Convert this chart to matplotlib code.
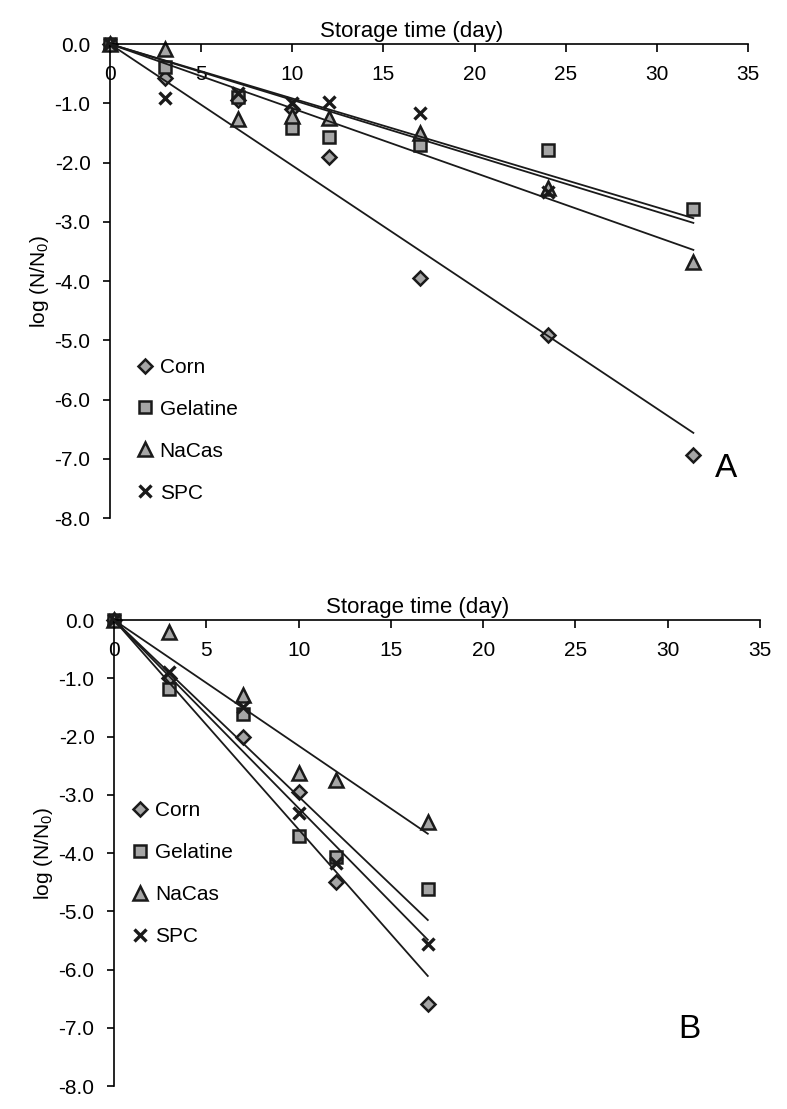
import numpy as np
import matplotlib

matplotlib.use("Agg")
import matplotlib.pyplot as plt
from matplotlib.lines import Line2D

plt.rcParams["font.family"] = ["Liberation Sans", "DejaVu Sans"]
plt.rcParams["axes.unicode_minus"] = False
plt.rcParams["mathtext.fontset"] = "custom"
plt.rcParams["mathtext.rm"] = "Liberation Sans"

# ---- data (log N/N0 vs storage day) ----
series_names = ["Corn", "Gelatine", "NaCas", "SPC"]

days_a = [0, 3, 7, 10, 12, 17, 24, 32]
corn_a = [0, -0.57, -0.95, -1.10, -1.91, -3.95, -4.91, -6.94]
gelatine_a = [0, -0.39, -0.89, -1.42, -1.57, -1.70, -1.79, -2.78]
nacas_a = [0, -0.08, -1.27, -1.22, -1.25, -1.50, -2.43, -3.68]
spc_a = [0, -0.91, -0.83, -0.99, -0.98, -1.17, -2.50, np.nan]

days_b = [0, 3, 7, 10, 12, 17]
corn_b = [0, -1.00, -2.00, -2.95, -4.49, -6.59]
gelatine_b = [0, -1.18, -1.61, -3.70, -4.07, -4.61]
nacas_b = [0, -0.20, -1.29, -2.62, -2.74, -3.46]
spc_b = [0, -0.89, -1.50, -3.31, -4.17, -5.56]

x_ticks = [0, 5, 10, 15, 20, 25, 30, 35]
y_ticks = [0, -1, -2, -3, -4, -5, -6, -7, -8]

FILL = "#a6a6a6"
EDGE = "#1a1a1a"
MARKERS = {
    "Corn": dict(marker="D", ms=7, mfc=FILL, mec=EDGE, mew=1.8),
    "Gelatine": dict(marker="s", ms=9, mfc=FILL, mec=EDGE, mew=1.8),
    "NaCas": dict(marker="^", ms=10.5, mfc=FILL, mec=EDGE, mew=1.8),
    "SPC": dict(marker="x", ms=8, mec=EDGE, mew=2.4),
}
FS = 15


def origin_fit(days, vals):
    """Least-squares slope of a line forced through the origin."""
    x = np.asarray(days, float)
    y = np.asarray(vals, float)
    ok = ~np.isnan(y)
    return np.sum(x[ok] * y[ok]) / np.sum(x[ok] ** 2)


def draw_panel(ax, days, groups, x_end, tag, tag_xy, legend_xy, title_x):
    for name, vals in zip(series_names, groups):
        slope = origin_fit(days, vals)
        ax.plot([0, x_end], [0, slope * x_end], color=EDGE, lw=1.3, zorder=3,
                clip_on=False)
    for name, vals in zip(series_names, groups):
        ax.plot(days, vals, ls="none", zorder=2, clip_on=False, **MARKERS[name])

    ax.set_xlim(0, 35)
    ax.set_ylim(-8, 0)
    ax.spines["bottom"].set_position(("data", 0))
    ax.spines["top"].set_visible(False)
    ax.spines["right"].set_visible(False)
    for sp in ("left", "bottom"):
        ax.spines[sp].set_linewidth(1.2)
    ax.set_xticks(x_ticks)
    ax.set_yticks(y_ticks)
    ax.set_yticklabels([f"{v:.1f}" for v in y_ticks])
    ax.tick_params(axis="x", direction="out", length=6, width=1.2, pad=9,
                   labelsize=FS)
    ax.tick_params(axis="y", direction="out", length=5, width=1.2, pad=9,
                   labelsize=FS)
    ax.xaxis.set_label_position("top")
    ax.set_xlabel("Storage time (day)", fontsize=16)
    ax.xaxis.set_label_coords(title_x, 1.015)
    ax.set_ylabel(r"log (N/N$_\mathregular{0}$)", fontsize=FS)
    ax.yaxis.set_label_coords(-0.092, 0.50)
    ax.text(tag_xy[0], tag_xy[1], tag, fontsize=24, ha="center", va="center")

    handles = [Line2D([], [], ls="none", **MARKERS[n]) for n in series_names]
    ax.legend(handles, series_names, loc="upper left", bbox_to_anchor=legend_xy,
              frameon=False, fontsize=FS, handlelength=0.8, handletextpad=0.3,
              labelspacing=1.1, borderpad=0, borderaxespad=0)


fig = plt.figure(figsize=(7.87, 11.09), dpi=100)
ax_a = fig.add_axes([0.1398, 0.5329, 0.8107, 0.4274])
ax_b = fig.add_axes([0.1449, 0.0207, 0.8208, 0.4202])

draw_panel(ax_a, days_a, [corn_a, gelatine_a, nacas_a, spc_a], 32, "A",
           (33.8, -7.16), (0.042, 0.338), 0.472)
draw_panel(ax_b, days_b, [corn_b, gelatine_b, nacas_b, spc_b], 17, "B",
           (31.2, -7.03), (0.028, 0.611), 0.47)

fig.savefig("out.png", dpi=100)
